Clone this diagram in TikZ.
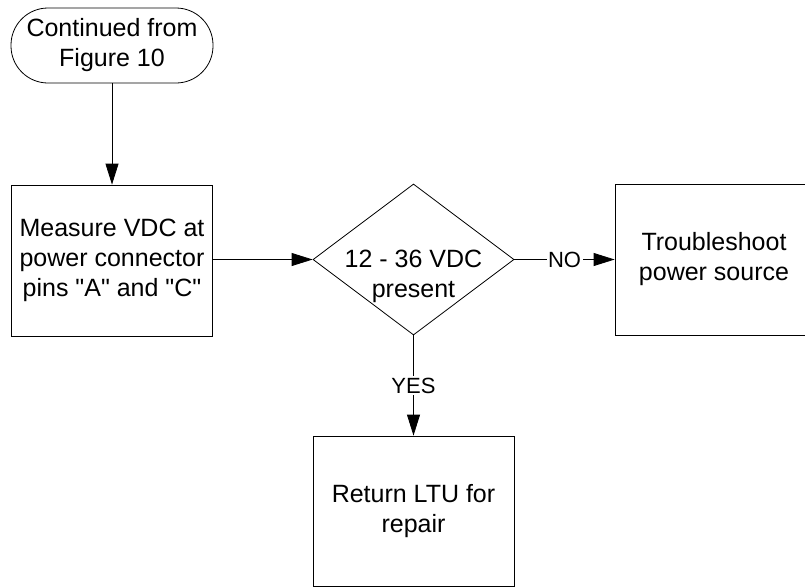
\documentclass[tikz,border=0pt]{standalone}
\usepackage{fontspec}
\setmainfont{Liberation Sans}
\usetikzlibrary{shapes.geometric,arrows.meta}
\begin{document}
\begin{tikzpicture}[x=1pt,y=-1pt,line width=0.8pt,
    every node/.style={font=\fontsize{25}{30}\selectfont, align=center},
    terminal/.style={draw, rectangle, rounded corners=37pt, minimum width=202pt, minimum height=75pt},
    box/.style={draw, rectangle, minimum width=201pt, minimum height=151pt, inner sep=0pt},
    decision/.style={draw, diamond, minimum width=201pt, minimum height=151pt, inner sep=0pt},
    flow/.style={-{Triangle[length=21pt,width=13pt]}},
    answer/.style={fill=white, inner sep=1.5pt, font=\fontsize{22}{26}\selectfont}]
    \useasboundingbox (0,0) rectangle (805,587);
    \clip (0,0) rectangle (805,587);
    % shapes
    \node[terminal] (start) at (112,45.5) {Continued from\\Figure 10};
    \node[box] (measure) at (112,260.5) {Measure VDC at\\power connector\\pins \textquotedbl A\textquotedbl{} and \textquotedbl C\textquotedbl};
    \node[decision] (check) at (413.5,259.5) {};
    \node (checktext) at ([yshift=-17pt]check.center) {12 - 36 VDC\\present};
    \node[box, minimum width=198pt] (trouble) at (714,259.5) {Troubleshoot\\power source};
    \node[box, minimum height=150pt] (repair) at (413.5,511) {Return LTU for\\repair};
    % connectors
    \draw[flow] (start) -- (measure);
    \draw[flow] (measure.east |- check) -- (check);
    \draw[flow] (check) -- node[answer] (no) {NO} (trouble);
    \draw[flow] (check) -- node[answer] (yes) {YES} (repair);
\end{tikzpicture}
\end{document}
